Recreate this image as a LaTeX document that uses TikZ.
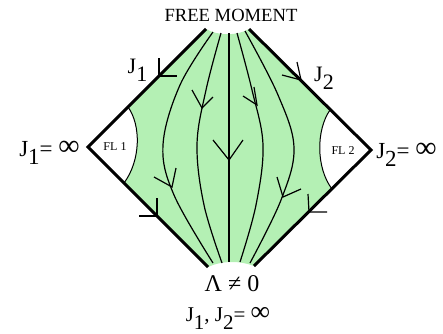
\documentclass[tikz,border=0pt]{standalone}
\usepackage{fontspec}
\setmainfont{Liberation Serif}
\usetikzlibrary{calc}
\definecolor{flowgreen}{HTML}{B4F0B4}
\newcommand{\Jsub}[1]{J\raisebox{-0.8ex}{#1}}
\newcommand{\infsym}{\raisebox{0.1ex}{\scalebox{1.3}{∞}}}

\begin{document}
\begin{tikzpicture}[x=0.5pt, y=-0.5pt,
  edge/.style={line width=1.5pt, line join=miter},
  flow/.style={line width=0.6pt},
  vee/.style={line width=0.6pt},
  bound/.style={line width=0.5pt},
  lab/.style={inner sep=0pt, font=\fontsize{11.5}{13}\selectfont},
  fllab/.style={inner sep=0pt, font=\fontsize{6}{7}\selectfont}
]
  \useasboundingbox (0,0) rectangle (443,333);

  % corners of the diamond
  \coordinate (L) at (88,147);
  \coordinate (R) at (371,150);
  \coordinate (TL) at (206,29);
  \coordinate (TR) at (249,29);
  \coordinate (BL) at (208,267);
  \coordinate (BR) at (254,266);
  \coordinate (fl1top) at (128,107);
  \coordinate (fl1bot) at (124,183);
  \coordinate (fl2top) at (330,110);
  \coordinate (fl2bot) at (332,189);

  % green region
  \fill[flowgreen] (TL) .. controls (218,36) and (237,36) .. (TR)
    -- (fl2top) .. controls (316,130) and (316,168) .. (fl2bot)
    -- (BR) .. controls (240,260.5) and (222,260.5) .. (BL)
    -- (fl1bot) .. controls (141,160) and (141,125) .. (fl1top) -- cycle;

  % boundaries of FL 1 and FL 2
  \draw[bound] (fl1bot) .. controls (141,160) and (141,125) .. (fl1top);
  \draw[bound] (fl2top) .. controls (316,130) and (316,168) .. (fl2bot);

  % flow lines
  \draw[flow] plot[smooth, tension=0.6] coordinates {(213,32) (180,85) (163,145) (174,195) (213,263)};
  \draw[flow] plot[smooth, tension=0.6] coordinates {(221,33) (206,90) (197,145) (204,205) (222,263)};
  \draw[flow] (229,33) -- (229,262);
  \draw[flow] plot[smooth, tension=0.6] coordinates {(237,33) (252,90) (263,145) (256,205) (240,262)};
  \draw[flow] plot[smooth, tension=0.6] coordinates {(245,31) (278,95) (294,148) (281,200) (250,263)};

  % arrowheads on the flow lines
  \draw[vee] (154,177) -- (172,187) -- (176,168);
  \draw[vee] (192,90) -- (202,108) -- (213,97);
  \draw[vee] (213,140) -- (229,160) -- (243,140);
  \draw[vee] (243,96) -- (257,105) -- (254,87);
  \draw[vee] (277,177) -- (283,197) -- (301,189);

  % diamond edges
  \draw[edge] (TL) -- (L) -- (BL);
  \draw[edge] (TR) -- (R) -- (BR);

  % arrowheads on the edges
  \draw[vee] (159,58) -- (159,76) -- (177,76);
  \draw[vee] (282,75) -- (301,80) -- (297,62);
  \draw[vee] (157,198) -- (157,216) -- (139,216);
  \draw[vee] (308,194) -- (309,212) -- (327,212);

  % labels
  \node[lab, font=\fontsize{9.3}{11}\selectfont] (free) at (231,15) {FREE MOMENT};
  \node[lab, font=\fontsize{11}{12}\selectfont] (j1top) at (137.5,70) {\Jsub{1}};
  \node[lab, font=\fontsize{11}{12}\selectfont] (j2top) at (324,78) {\Jsub{2}};
  \node[lab] (j1inf) at (49.5,153) {\Jsub{1}= \infsym};
  \node[lab] (j2inf) at (406.5,155) {\Jsub{2}= \infsym};
  \node[lab, font=\fontsize{12}{13}\selectfont] (lambda) at (232,283.5) {Λ ≠ 0};
  \node[lab, font=\fontsize{10.5}{12}\selectfont] (jboth) at (228,318.5) {\Jsub{1}, \Jsub{2}= \infsym};
  \node[fllab] (fl1) at (115,147) {FL 1};
  \node[fllab] (fl2) at (343,151) {FL 2};
\end{tikzpicture}
\end{document}
